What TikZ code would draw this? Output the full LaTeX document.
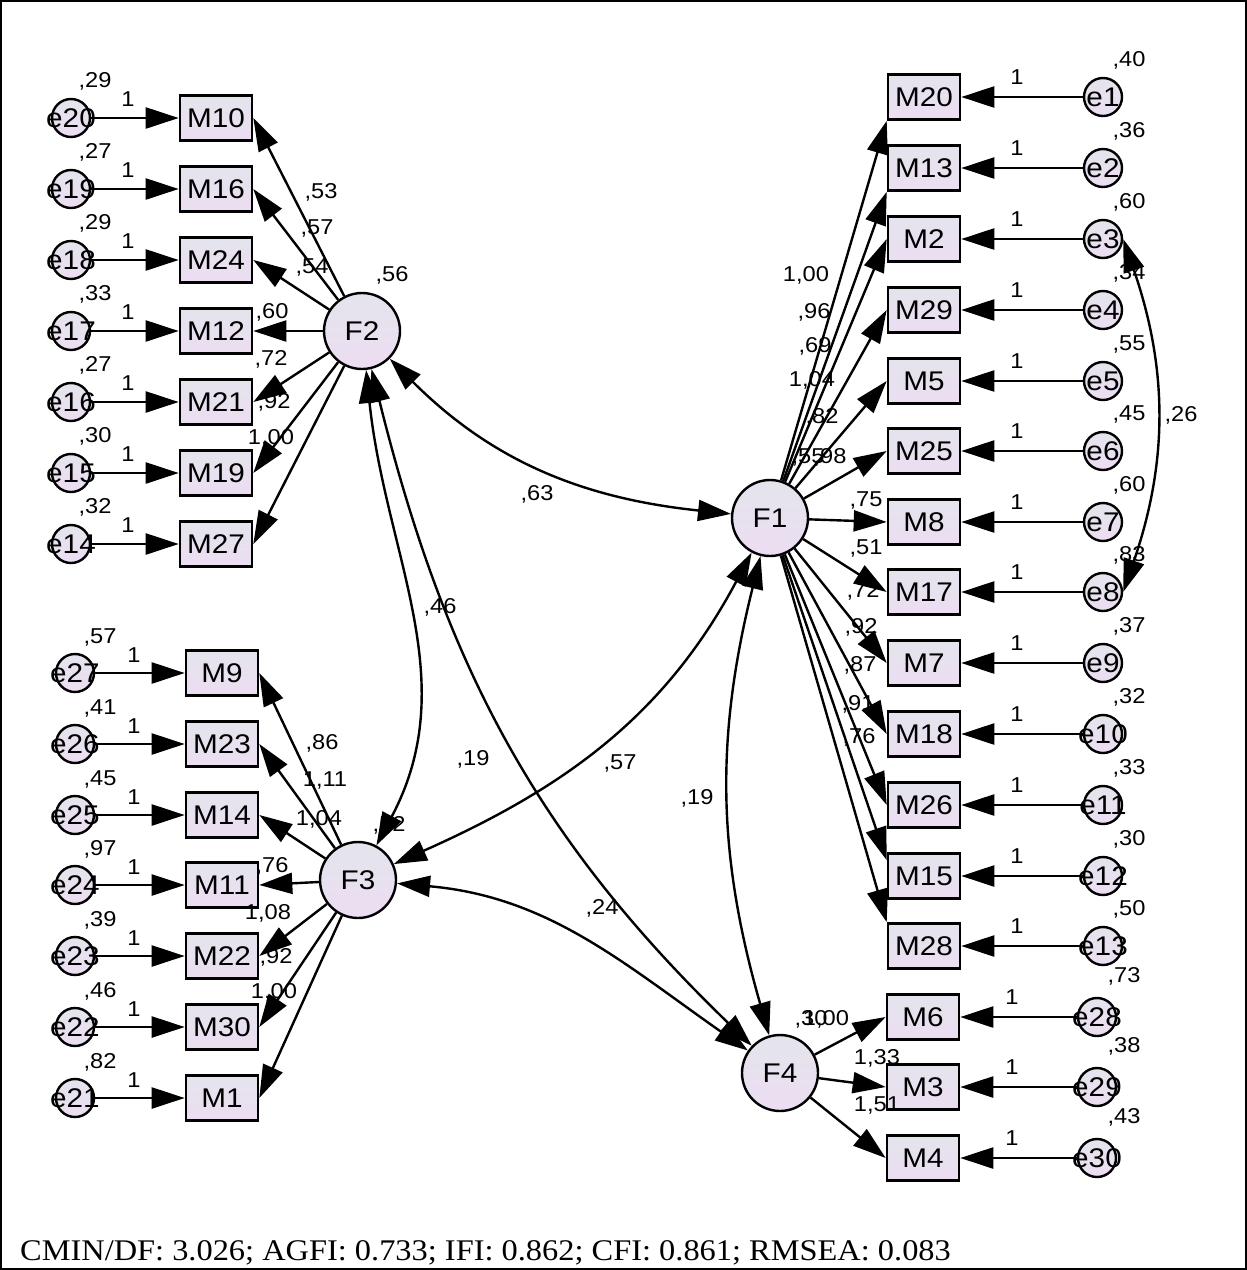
\documentclass[tikz,border=0pt]{standalone}
\usepackage{fontspec}
\setmainfont{Liberation Serif}
\newfontfamily\amos[FakeStretch=1.1]{Liberation Sans}
\newfontfamily\fitfont[FakeStretch=1.08]{Liberation Serif}
\usetikzlibrary{arrows.meta}
\definecolor{fillA}{HTML}{E4E4EC}
\definecolor{fillB}{HTML}{ECDDF2}
\tikzset{
 obs/.style={rectangle,draw,line width=2.6pt,minimum width=72pt,minimum height=45pt,inner sep=0pt,top color=fillA,bottom color=fillB,font=\amos\fontsize{27}{27}\selectfont},
 lat/.style={circle,draw,line width=2.4pt,minimum size=76pt,inner sep=0pt,top color=fillA,bottom color=fillB,font=\amos\fontsize{27}{27}\selectfont},
 err/.style={circle,draw,line width=2.4pt,minimum size=38pt,inner sep=0pt,top color=fillA,bottom color=fillB},
 etext/.style={font=\amos\fontsize{27}{27}\selectfont,inner sep=0pt},
 lbl/.style={font=\amos\fontsize{21.5}{21.5}\selectfont,inner sep=0pt},
 arr/.style={line width=2.4pt,-{Triangle[length=33pt,width=21pt]}},
 cov/.style={line width=2.4pt,{Triangle[length=33pt,width=21pt]}-{Triangle[length=33pt,width=21pt]}},
}
\begin{document}
\begin{tikzpicture}[x=1pt,y=1pt]
\useasboundingbox (0,0) rectangle (1247,-1270);
\draw[line width=2pt] (1,-1) rectangle (1246,-1269);

% latent factors
\node[lat] (F2) at (362,-331) {F2};
\node[lat] (F3) at (358,-880) {F3};
\node[lat] (F1) at (770,-518) {F1};
\node[lat] (F4) at (780,-1073) {F4};

% F2 group
\foreach \ee/\mm/\yy/\vv in {20/10/118/29,19/16/189/27,18/24/260/29,17/12/331/33,16/21/402/27,15/19/473/30,14/27/544/32}{
  \node[obs] (M\mm) at (216,-\yy) {M\mm};
  \node[err,label={[etext]center:e\ee}] (e\ee) at (71,-\yy) {};
  \node[lbl] (v\ee) at (95,{37-\yy}) {,\vv};
  \node[lbl] (o\ee) at (128,{19-\yy}) {1};
  \draw[arr] (e\ee) -- (M\mm);
}
% F3 group
\foreach \ee/\mm/\yy/\vv in {27/9/673/57,26/23/744/41,25/14/815/45,24/11/885/97,23/22/956/39,22/30/1027/46,21/1/1098/82}{
  \node[obs] (M\mm) at (222,-\yy) {M\mm};
  \node[err,label={[etext]center:e\ee}] (e\ee) at (75,-\yy) {};
  \node[lbl] (v\ee) at (100,{36-\yy}) {,\vv};
  \node[lbl] (o\ee) at (134,{18-\yy}) {1};
  \draw[arr] (e\ee) -- (M\mm);
}
% F1 group
\foreach \ee/\mm/\yy/\vv in {1/20/97/40,2/13/168/36,3/2/239/60,4/29/310/34,5/5/381/55,6/25/451/45,7/8/522/60,8/17/592/83,9/7/663/37,10/18/734/32,11/26/805/33,12/15/876/30,13/28/946/50}{
  \node[obs] (M\mm) at (924,-\yy) {M\mm};
  \node[err,label={[etext]center:e\ee}] (e\ee) at (1103,-\yy) {};
  \node[lbl] (v\ee) at (1129,{37-\yy}) {,\vv};
  \node[lbl] (o\ee) at (1017,{20-\yy}) {1};
  \draw[arr] (e\ee) -- (M\mm);
}
% F4 group
\foreach \ee/\mm/\yy/\vv in {28/6/1017/73,29/3/1087/38,30/4/1158/43}{
  \node[obs] (M\mm) at (923,-\yy) {M\mm};
  \node[err,label={[etext]center:e\ee}] (e\ee) at (1097,-\yy) {};
  \node[lbl] (v\ee) at (1124,{41-\yy}) {,\vv};
  \node[lbl] (o\ee) at (1012,{20-\yy}) {1};
  \draw[arr] (e\ee) -- (M\mm);
}

% loading labels
\foreach \mm/\tt/\lx/\ly in {10/{,53}/321/192,16/{,57}/317/228,24/{,54}/312/267,12/{,60}/272/312,21/{,72}/271/359,19/{,92}/274/402,27/{1,00}/271/438,
 9/{,86}/322/743,23/{1,11}/325/780,14/{1,04}/319/819,11/{,76}/272/866,22/{1,08}/268/913,30/{,92}/276/957,1/{1,00}/274/992,
 20/{1,00}/806/275,13/{,96}/814/312,2/{,69}/815/346,29/{1,04}/812/380,5/{,82}/822/417,25/{,98}/830/457,8/{,75}/866/500,17/{,51}/866/548,7/{,72}/863/591,18/{,92}/861/627,26/{,87}/860/665,15/{,91}/858/704,28/{,76}/859/737,
 6/{1,00}/826/1019,3/{1,33}/877/1058,4/{1,51}/877/1105}{
  \node[lbl] (l\mm) at (\lx,-\ly) {\tt};
}
% factor variances
\node[lbl] (vF2) at (392,-275) {,56};
\node[lbl] (vF3) at (389,-825) {,52};
\node[lbl] (vF1) at (808,-457) {,55};
\node[lbl] (vF4) at (811,-1019) {,30};
% covariance labels
\node[lbl] (c12) at (537,-494) {,63};
\node[lbl] (c23) at (440,-607) {,46};
\node[lbl] (c24) at (473,-759) {,19};
\node[lbl] (c13) at (620,-763) {,57};
\node[lbl] (c14) at (697,-798) {,19};
\node[lbl] (c34) at (602,-908) {,24};
\node[lbl] (ce) at (1181,-415) {,26};

% loadings
\foreach \mm in {10,16,24,12,21,19,27}{\draw[arr] (F2) -- (M\mm.east);}
\foreach \mm in {9,23,14,11,22,30,1}{\draw[arr] (F3) -- (M\mm.east);}
\draw[arr] (F1) -- (M20.south west);
\draw[arr] (F1) -- (M13.south west);
\foreach \mm in {2,29,5,25,8,17,7,18,26}{\draw[arr] (F1) -- (M\mm.west);}
\draw[arr] (F1) -- ([yshift=-8pt]M15.north west);
\draw[arr] (F1) -- (M28.north west);
\foreach \mm in {6,3,4}{\draw[arr] (F4) -- (M\mm.west);}

% covariances
\draw[cov] (F2) to[out=-45,in=174] (F1);
\draw[cov] (F2) to[out=-84,in=62] (F3);
\draw[cov] (F2) to[out=-76,in=136] (F4);
\draw[cov] (F3) to[out=-5,in=145] (F4);
\draw[cov] (F1) to[out=-118,in=24] (F3);
\draw[cov] (F1) to[out=-104,in=106] (F4);
\draw[cov] (e3.east) to[out=-71,in=71] (e8.east);

% fit indices
\node[font=\fitfont\fontsize{30}{30}\selectfont,anchor=base west,inner sep=0pt] (fit) at (20,-1260) {CMIN/DF: 3.026; AGFI: 0.733; IFI: 0.862; CFI: 0.861; RMSEA: 0.083};
\end{tikzpicture}
\end{document}
